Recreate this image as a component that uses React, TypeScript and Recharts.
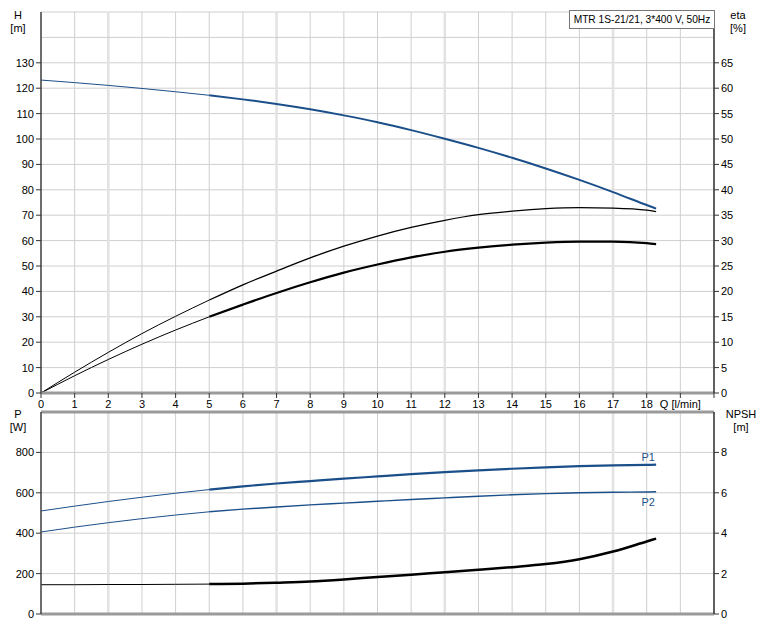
import React from 'react'
import { LineChart, Line, XAxis, YAxis, CartesianGrid, ReferenceLine } from 'recharts'

// flow Q [l/min]
const Q = [0, 1, 2, 3, 4, 5, 6, 7, 8, 9, 10, 11, 12, 13, 14, 15, 16, 17, 18, 18.28]
// head H [m]
const H = [123.2, 122.2, 121.1, 119.9, 118.6, 117.2, 115.6, 113.8, 111.7, 109.3, 106.6, 103.5, 100.1, 96.5, 92.6, 88.4, 83.9, 79.1, 74.0, 72.6]
// efficiencies [%]
const ETA_PUMP = [0, 4.1, 8.0, 11.7, 15.1, 18.3, 21.3, 24.0, 26.6, 28.9, 30.9, 32.6, 34.0, 35.1, 35.8, 36.3, 36.5, 36.4, 36.0, 35.7]
const ETA_TOTAL = [0, 3.4, 6.6, 9.6, 12.4, 15.0, 17.4, 19.7, 21.8, 23.7, 25.3, 26.7, 27.8, 28.6, 29.2, 29.6, 29.8, 29.8, 29.5, 29.3]
// power [W]
const P1 = [510, 534, 557, 578, 598, 616, 632, 646, 658, 670, 681, 692, 702, 711, 719, 726, 732, 736, 738, 739]
const P2 = [406, 430, 452, 472, 490, 506, 519, 530, 540, 549, 558, 567, 575, 583, 590, 596, 600, 603, 604, 605]
// NPSH [m]
const NPSH = [1.45, 1.45, 1.46, 1.46, 1.47, 1.48, 1.5, 1.55, 1.61, 1.71, 1.83, 1.94, 2.07, 2.19, 2.32, 2.47, 2.71, 3.09, 3.59, 3.73]

const X_TICKS = [0, 1, 2, 3, 4, 5, 6, 7, 8, 9, 10, 11, 12, 13, 14, 15, 16, 17, 18, 19, 20]
const H_TICKS = [0, 10, 20, 30, 40, 50, 60, 70, 80, 90, 100, 110, 120, 130]
const ETA_TICKS = [0, 5, 10, 15, 20, 25, 30, 35, 40, 45, 50, 55, 60, 65]
const P_TICKS = [0, 200, 400, 600, 800]
const NPSH_TICKS = [0, 2, 4, 6, 8]
const WIDE_GRID = [2, 7, 12, 17]
const DUTY_START = 5

const BLUE = '#1b4f8a'
const FONT = 'Liberation Sans, Arial, sans-serif'
const GRID = '#cfcfcf'

const split = (vals: number[]) => ({
  lo: vals.map((v, i) => (Q[i] <= DUTY_START ? v : null)),
  hi: vals.map((v, i) => (Q[i] >= DUTY_START ? v : null)),
})

const sH = split(H)
const sEa = split(ETA_PUMP)
const sEb = split(ETA_TOTAL)
const sP1 = split(P1)
const sP2 = split(P2)
const sN = split(NPSH)

const data = Q.map((q, i) => ({
  q,
  hLo: sH.lo[i], hHi: sH.hi[i],
  eaLo: sEa.lo[i], eaHi: sEa.hi[i],
  ebLo: sEb.lo[i], ebHi: sEb.hi[i],
  p1Lo: sP1.lo[i], p1Hi: sP1.hi[i],
  p2Lo: sP2.lo[i], p2Hi: sP2.hi[i],
  nLo: sN.lo[i], nHi: sN.hi[i],
}))

const tickStyle = { fontSize: 11, fill: '#000', fontFamily: FONT }
const unitStyle: React.CSSProperties = { position: 'absolute', fontSize: 11, fontFamily: FONT, textAlign: 'center', lineHeight: '13px' }

const endLabel = (text: string, dy: number) => (props: any) =>
  props.index === Q.length - 1 ? (
    <text x={props.x - 8} y={props.y + dy} textAnchor="middle" fontSize={11} fontFamily={FONT} fill={BLUE}>{text}</text>
  ) : <g />

export default function App() {
  return (
    <div style={{ position: 'absolute', left: 0, top: 0, width: 764, height: 627, background: '#fff' }}>
      <div style={{ ...unitStyle, left: 8, top: 9, width: 20 }}>H<br />[m]</div>
      <div style={{ ...unitStyle, left: 726, top: 9, width: 24 }}>eta<br />[%]</div>
      <div style={{ ...unitStyle, left: 8, top: 408, width: 20 }}>P<br />[W]</div>
      <div style={{ ...unitStyle, left: 724, top: 408, width: 34 }}>NPSH<br />[m]</div>
      <div style={{ position: 'absolute', left: 569, top: 10, width: 144, height: 17, border: '1px solid #777', fontSize: 10.2, fontFamily: FONT, lineHeight: '17px', textAlign: 'center', whiteSpace: 'nowrap', overflow: 'hidden', background: '#fff', zIndex: 2 }}>
        MTR 1S-21/21, 3*400 V, 50Hz
      </div>

      <div style={{ position: 'absolute', left: 0, top: 0 }}>
        <LineChart width={764} height={420} data={data} margin={{ top: 12, right: 0, bottom: 7, left: 0 }}>
          <CartesianGrid stroke={GRID} yAxisId="h" />
          {WIDE_GRID.map((x) => (
            <ReferenceLine key={x} x={x} yAxisId="h" stroke="#e2e2e2" strokeWidth={2.5} />
          ))}
          <ReferenceLine y={140} yAxisId="h" stroke={GRID} />
          <XAxis dataKey="q" type="number" domain={[0, 20]} ticks={X_TICKS} interval={0} height={20}
            tick={tickStyle} tickSize={5} tickLine={{ stroke: '#333' }}
            axisLine={{ stroke: '#9a9a9a', strokeWidth: 3 }}
            tickFormatter={(v: number) => (v === 19 ? 'Q [l/min]' : v === 20 ? '' : String(v))} />
          <YAxis yAxisId="h" domain={[0, 150]} ticks={H_TICKS} width={41} tick={tickStyle} tickSize={5}
            tickLine={{ stroke: '#333' }} axisLine={{ stroke: '#444', strokeWidth: 1.5 }} />
          <YAxis yAxisId="eta" orientation="right" domain={[0, 75]} ticks={ETA_TICKS} width={50} tick={tickStyle}
            tickSize={5} tickLine={{ stroke: '#333' }} axisLine={{ stroke: '#333', strokeWidth: 1.5 }} />
          <Line yAxisId="eta" dataKey="eaLo" type="monotone" stroke="#000" strokeWidth={1} dot={false} isAnimationActive={false} />
          <Line yAxisId="eta" dataKey="eaHi" type="monotone" stroke="#000" strokeWidth={1.3} dot={false} isAnimationActive={false} />
          <Line yAxisId="eta" dataKey="ebLo" type="monotone" stroke="#000" strokeWidth={1} dot={false} isAnimationActive={false} />
          <Line yAxisId="eta" dataKey="ebHi" type="monotone" stroke="#000" strokeWidth={2.2} dot={false} isAnimationActive={false} />
          <Line yAxisId="h" dataKey="hLo" type="monotone" stroke={BLUE} strokeWidth={1} dot={false} isAnimationActive={false} />
          <Line yAxisId="h" dataKey="hHi" type="monotone" stroke={BLUE} strokeWidth={2} dot={false} isAnimationActive={false} />
        </LineChart>
      </div>

      <div style={{ position: 'absolute', left: 0, top: 405 }}>
        <LineChart width={764} height={222} data={data} margin={{ top: 7, right: 0, bottom: 13, left: 0 }}>
          <CartesianGrid stroke={GRID} yAxisId="p" />
          {WIDE_GRID.map((x) => (
            <ReferenceLine key={x} x={x} yAxisId="p" stroke="#e2e2e2" strokeWidth={2.5} />
          ))}
          <ReferenceLine y={1000} yAxisId="p" stroke="#9a9a9a" strokeWidth={3} />
          <ReferenceLine y={0} yAxisId="p" stroke="#9a9a9a" strokeWidth={3} />
          <XAxis dataKey="q" type="number" domain={[0, 20]} ticks={X_TICKS} hide />
          <YAxis yAxisId="p" domain={[0, 1000]} ticks={P_TICKS} width={41} tick={tickStyle} tickSize={5}
            tickLine={{ stroke: '#333' }} axisLine={{ stroke: '#444', strokeWidth: 1.5 }} />
          <YAxis yAxisId="n" orientation="right" domain={[0, 10]} ticks={NPSH_TICKS} width={50} tick={tickStyle}
            tickSize={5} tickLine={{ stroke: '#333' }} axisLine={{ stroke: '#333', strokeWidth: 1.5 }} />
          <Line yAxisId="n" dataKey="nLo" type="monotone" stroke="#000" strokeWidth={1} dot={false} isAnimationActive={false} />
          <Line yAxisId="n" dataKey="nHi" type="monotone" stroke="#000" strokeWidth={2.5} dot={false} isAnimationActive={false} />
          <Line yAxisId="p" dataKey="p2Lo" type="monotone" stroke={BLUE} strokeWidth={1} dot={false} isAnimationActive={false} />
          <Line yAxisId="p" dataKey="p2Hi" type="monotone" stroke={BLUE} strokeWidth={1.4} dot={false} isAnimationActive={false}
            label={endLabel('P2', 14)} />
          <Line yAxisId="p" dataKey="p1Lo" type="monotone" stroke={BLUE} strokeWidth={1} dot={false} isAnimationActive={false} />
          <Line yAxisId="p" dataKey="p1Hi" type="monotone" stroke={BLUE} strokeWidth={2.2} dot={false} isAnimationActive={false}
            label={endLabel('P1', -4)} />
        </LineChart>
      </div>
    </div>
  )
}
